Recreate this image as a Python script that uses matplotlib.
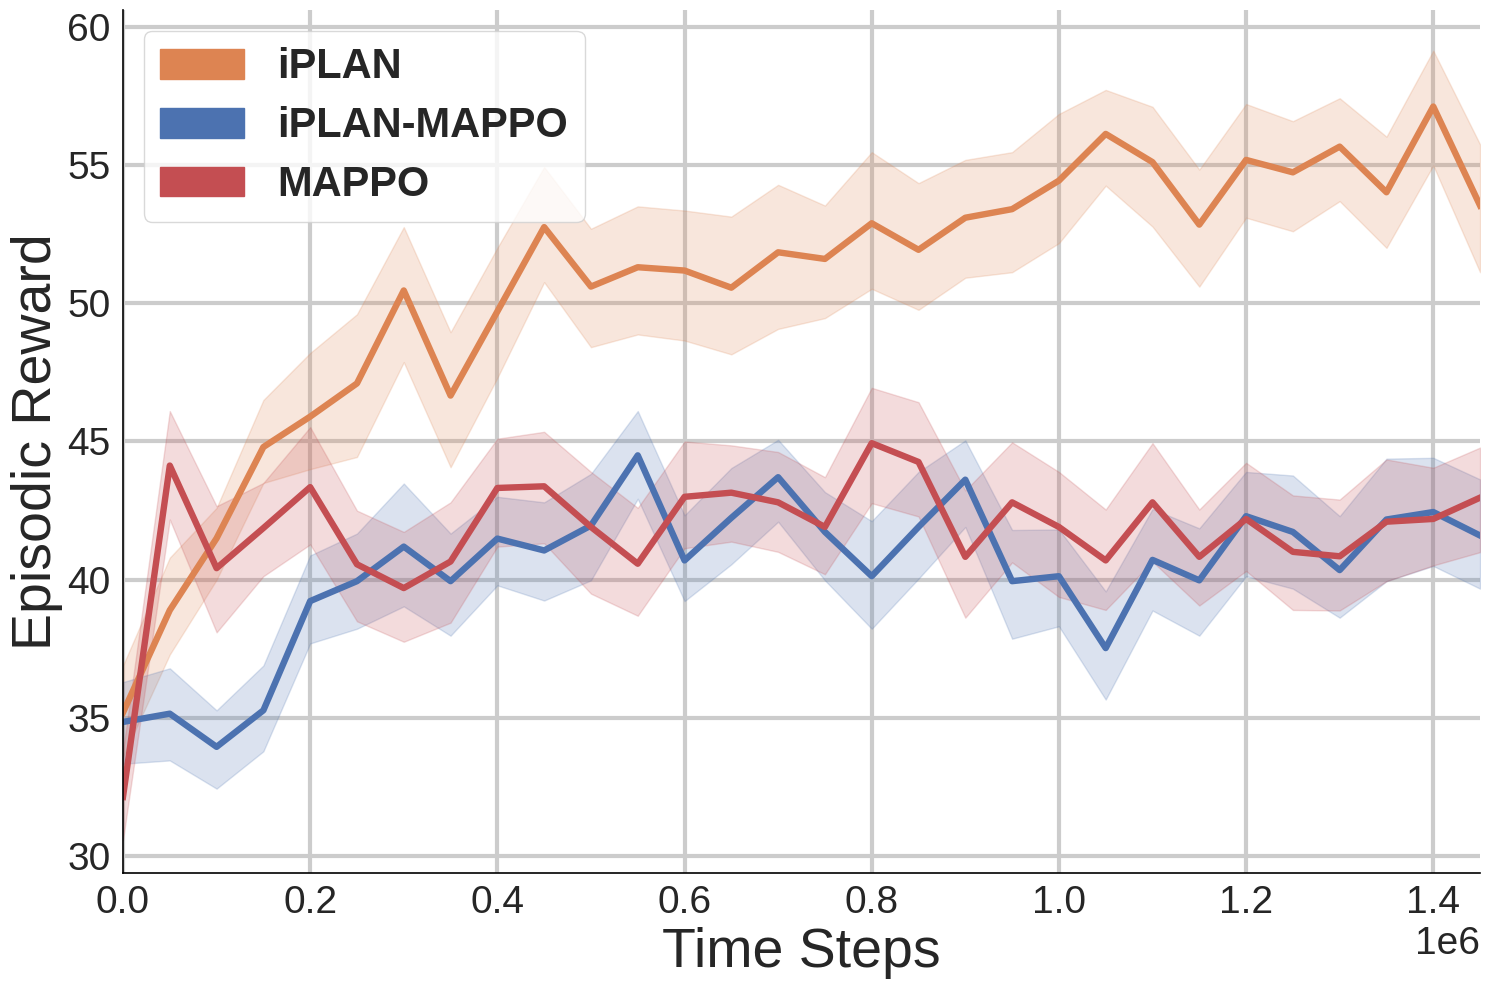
import matplotlib
matplotlib.use("Agg")
import matplotlib.pyplot as plt
import matplotlib.patches as mpatches
import numpy as np

steps = [i * 50000 for i in range(30)]

iplan_mean = [35.2, 38.9, 41.5, 44.8, 45.9, 47.1, 50.46, 46.66, 49.7, 52.75,
              50.6, 51.3, 51.18, 50.56, 51.84, 51.6, 52.89, 51.93, 53.09, 53.4,
              54.43, 56.12, 55.1, 52.84, 55.18, 54.73, 55.66, 54.01, 57.11, 53.53]
iplan_upper = [36.9, 40.8, 42.6, 46.5, 48.2, 49.6, 52.75, 48.95, 52.0, 54.92,
               52.69, 53.5, 53.35, 53.13, 54.28, 53.53, 55.46, 54.34, 55.18, 55.46,
               56.84, 57.71, 57.1, 54.83, 57.2, 56.58, 57.41, 56.02, 59.13, 55.74]
iplan_lower = [33.6, 37.3, 40.0, 43.5, 44.0, 44.44, 47.87, 44.07, 47.3, 50.76,
               48.41, 48.87, 48.65, 48.15, 49.07, 49.46, 50.52, 49.76, 50.92, 51.12,
               52.17, 54.25, 52.77, 50.6, 53.09, 52.6, 53.69, 52.0, 54.98, 51.12]

ipm_mean = [34.86, 35.16, 33.96, 35.28, 39.23, 39.95, 41.2, 39.95, 41.49, 41.06,
            41.96, 44.5, 40.7, 42.24, 43.71, 41.73, 40.13, 41.91, 43.62, 39.95,
            40.13, 37.53, 40.72, 39.98, 42.3, 41.73, 40.35, 42.18, 42.45, 41.6]
ipm_upper = [36.3, 36.8, 35.28, 36.9, 40.88, 41.67, 43.48, 41.67, 43.0, 42.8,
             43.83, 46.1, 42.33, 44.04, 45.06, 43.17, 42.12, 43.9, 45.04, 41.8,
             41.82, 39.58, 42.56, 41.86, 43.9, 43.77, 42.3, 44.38, 44.41, 43.63]
ipm_lower = [33.35, 33.47, 32.45, 33.8, 37.7, 38.23, 39.04, 37.98, 39.8, 39.25,
             39.98, 42.93, 39.23, 40.56, 42.1, 39.98, 38.23, 40.04, 41.91, 37.87,
             38.32, 35.67, 38.89, 37.98, 40.13, 39.68, 38.63, 39.95, 40.5, 39.68]

mappo_mean = [32.15, 44.13, 40.42, 41.87, 43.35, 40.56, 39.7, 40.66, 43.32, 43.38,
              41.91, 40.58, 43.0, 43.15, 42.8, 41.91, 44.94, 44.26, 40.83, 42.8,
              41.91, 40.7, 42.8, 40.83, 42.2, 41.01, 40.85, 42.1, 42.2, 42.97]
mappo_upper = [33.8, 46.1, 42.66, 43.5, 45.52, 42.5, 41.73, 42.8, 45.1, 45.35,
               43.9, 42.6, 45.0, 44.86, 44.62, 43.71, 46.94, 46.42, 43.23, 44.97,
               43.9, 42.54, 44.94, 42.54, 44.23, 43.05, 42.9, 44.35, 44.05, 44.78]
mappo_lower = [30.6, 42.18, 38.1, 40.13, 41.28, 38.5, 37.76, 38.45, 41.2, 41.32,
               39.5, 38.7, 41.14, 41.38, 41.01, 40.2, 42.77, 42.29, 38.63, 40.63,
               39.38, 38.91, 40.66, 39.07, 40.32, 38.91, 38.89, 39.95, 40.52, 41.0]

labels = ["iPLAN", "iPLAN-MAPPO", "MAPPO"]
colors = ["#DD8452", "#4C72B0", "#C44E52"]

plt.rcParams['font.family'] = ['Liberation Sans', 'DejaVu Sans']

fig = plt.figure(figsize=(14.89, 9.89), dpi=100)
ax = fig.add_axes([0.0826, 0.1173, 0.9114, 0.8726])

series = [(iplan_mean, iplan_lower, iplan_upper),
          (ipm_mean, ipm_lower, ipm_upper),
          (mappo_mean, mappo_lower, mappo_upper)]

for (m, lo, hi), c, lab in zip(series, colors, labels):
    ax.fill_between(steps, lo, hi, color=c, alpha=0.2, linewidth=1)
    ax.plot(steps, m, color=c, linewidth=4.6, label=lab)

ax.set_xlim(0, 1.45e6)
ax.set_ylim(29.4, 60.6)
ax.set_yticks([30, 35, 40, 45, 50, 55, 60])
ax.set_xticks([0, 0.2e6, 0.4e6, 0.6e6, 0.8e6, 1.0e6, 1.2e6, 1.4e6])

ax.grid(True, color="#cccccc", linewidth=3)
ax.set_axisbelow(True)
for s in ["top", "right"]:
    ax.spines[s].set_visible(False)
for s in ["left", "bottom"]:
    ax.spines[s].set_color("black")
    ax.spines[s].set_linewidth(1.2)

ax.tick_params(axis="both", which="both", length=0, labelsize=28, pad=9, colors="#262626")
ax.xaxis.get_offset_text().set_fontsize(28)
ax.xaxis.get_offset_text().set_color("#262626")

ax.set_xlabel("Time Steps", fontsize=40, color="#262626", labelpad=4)
ax.set_ylabel("Episodic Reward", fontsize=40, color="#262626", labelpad=3)

handles = [mpatches.Patch(color=c, label=l) for c, l in zip(colors, labels)]
leg = ax.legend(handles=handles, loc="upper left", prop={"weight": "bold", "size": 30},
                handlelength=2.0, handleheight=0.72, frameon=True, fancybox=True,
                borderpad=0.4, labelspacing=0.45, handletextpad=0.8,
                borderaxespad=0.5)
leg.get_frame().set_edgecolor("#d0d0d0")
leg.get_frame().set_alpha(0.8)
for t in leg.get_texts():
    t.set_color("#262626")

fig.savefig("out.png", dpi=100)
